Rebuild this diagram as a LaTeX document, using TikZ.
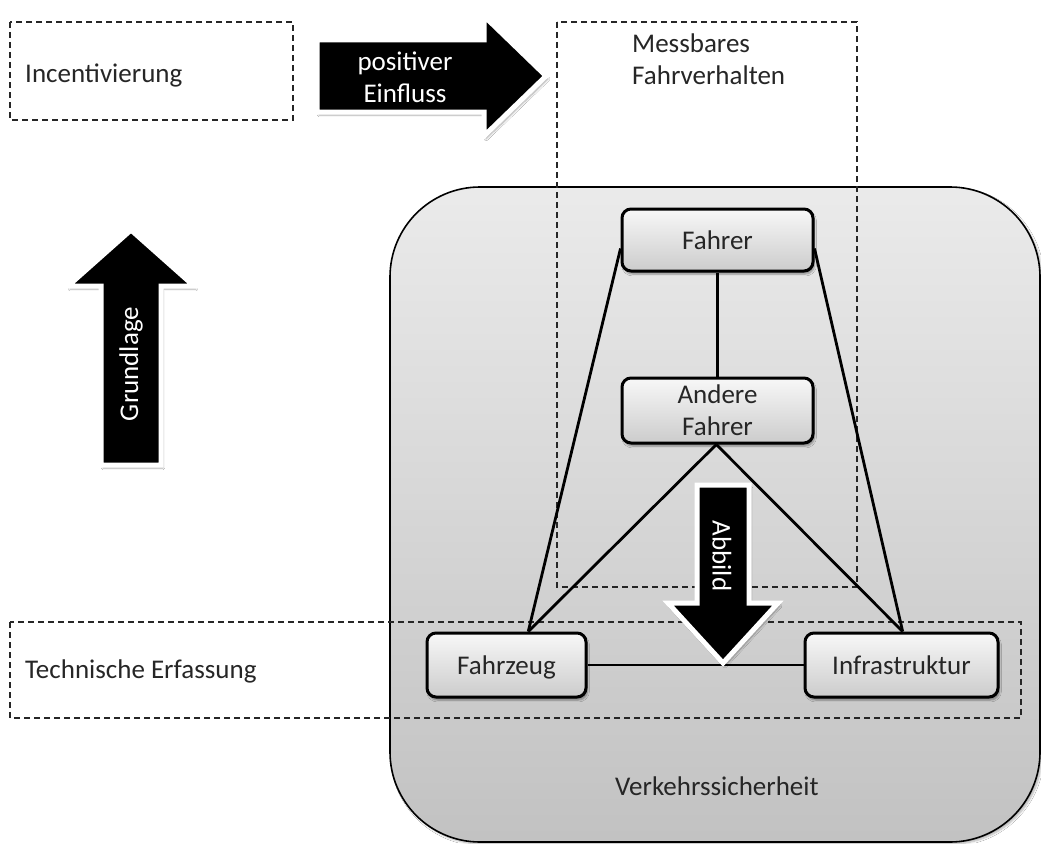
\documentclass[tikz,border=0pt]{standalone}
\usepackage{fontspec}
\setmainfont{Carlito}
\usetikzlibrary{shadows.blur}
\begin{document}
\begin{tikzpicture}[x=1pt,y=-1pt,
  font=\fontsize{27}{32}\selectfont,
  dashbox/.style={draw=black!85, dash pattern=on 6pt off 4pt, line width=1.6pt},
  frame/.style={draw=black, line width=1.6pt, rounded corners=90pt,
    top color=white!92!black, bottom color=white!76!black,
    blur shadow={shadow xshift=2pt, shadow yshift=-2pt, shadow blur steps=6, shadow opacity=30}},
  item/.style={draw=black, line width=3pt, rounded corners=9pt,
    top color=white!97!black, bottom color=white!80!black,
    text=black!85, align=center, inner sep=0pt,
    blur shadow={shadow xshift=1.5pt, shadow yshift=-3pt, shadow blur steps=5, shadow opacity=40}},
  oneline/.style={item, text depth=0pt},
  link/.style={draw=black, line width=2.8pt},
  bigarrow/.style={fill=black, draw=white, line width=5pt, line join=miter,
    blur shadow={shadow xshift=2pt, shadow yshift=-3pt, shadow blur steps=6, shadow opacity=35}},
  arrowtext/.style={text=white, align=center, inner sep=0pt},
  label/.style={text=black!85, inner sep=0pt}]

\useasboundingbox (0,0) rectangle (1041,843);
\fill[white] (0,0) rectangle (1041,843);

% outer frame: road safety
\node[frame, minimum width=650pt, minimum height=655pt] (frame) at (715,514.5) {};
\node[label, anchor=base west] (vs) at (615,795) {Verkehrssicherheit};

% dashed grouping boxes
\draw[dashbox] (10,22) rectangle (293,120);
\draw[dashbox] (557,22) rectangle (857,587);
\draw[dashbox] (10,622) rectangle (1021,718);

\node[label, anchor=base west] (inc) at (25,82) {Incentivierung};
\node[label, anchor=north west, align=left] (mess) at (632,34) {Messbares\\Fahrverhalten};
\node[label, anchor=base west] (tech) at (25,678) {Technische Erfassung};

% element boxes
\node[oneline, minimum width=191pt, minimum height=62pt] (fahrer) at (717.5,240) {Fahrer};
\node[item, minimum width=191pt, minimum height=65pt] (andere) at (717.5,410.5) {Andere\\Fahrer};
\node[oneline, minimum width=159pt, minimum height=64pt] (fahrzeug) at (506.5,665) {Fahrzeug};
\node[oneline, minimum width=193pt, minimum height=64pt] (infra) at (901.5,665) {Infrastruktur};

% connections, ending on the box borders
\draw[link] (fahrer.185) -- (fahrzeug.57);
\draw[link] (fahrer.355) -- (infra.88);
\draw[link] (fahrer.south) -- (andere.north);
\draw[link] (andere.268) -- (fahrzeug.57);
\draw[link] (andere.268) -- (infra.88);
\draw[link] (fahrzeug.east) -- (infra.west);

% block arrows
\draw[bigarrow] (317,40) -- (484,40) -- (484,16) -- (546,76) -- (484,136) -- (484,112) -- (317,112) -- cycle;
\node[arrowtext] (pos) at (405,77) {positiver\\Einfluss};

\draw[bigarrow] (101,465) -- (101,286) -- (68,286) -- (131,230) -- (194,286) -- (161,286) -- (161,465) -- cycle;
\node[arrowtext, rotate=90] (grund) at (131,364) {Grundlage};

\draw[bigarrow] (697,485) -- (749,485) -- (749,603) -- (778,603) -- (723,663) -- (668,603) -- (697,603) -- cycle;
\node[arrowtext, rotate=-90] (abb) at (722,556) {Abbild};

\end{tikzpicture}
\end{document}
